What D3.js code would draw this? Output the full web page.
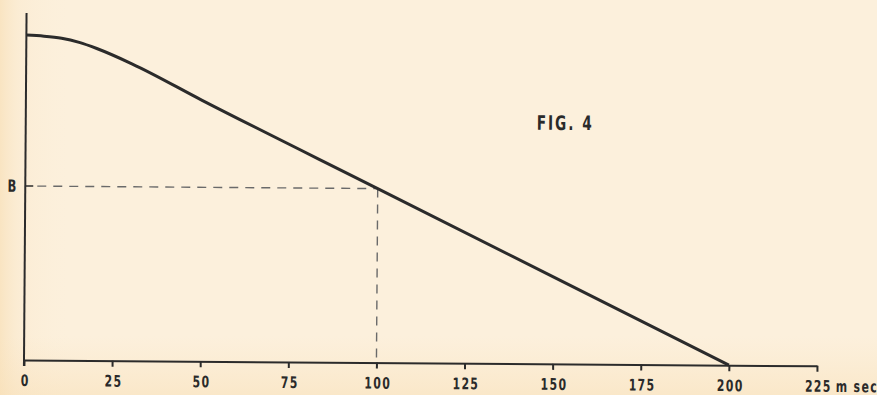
<!DOCTYPE html>
<html>
<head>
<meta charset="utf-8">
<script src="https://cdn.jsdelivr.net/npm/d3@7/dist/d3.min.js"></script>
<style>
  html, body { margin: 0; padding: 0; background: #fcefd9; }
  svg { display: block; }
  svg text.lbl { font-family: "DejaVu Sans", sans-serif; font-weight: bold; fill: #2a2a2a; }
</style>
</head>
<body>
<svg id="chart" width="877" height="395"></svg>
<script>
// Time axis (ms) and tick values
const xTicks = [0, 25, 50, 75, 100, 125, 150, 175, 200, 225];
const xUnit = "m sec";

// Decay curve: time in ms, level in arbitrary units
const curveT = [0, 5, 10, 15, 20, 30, 50, 100, 200];
const curveV = [325, 324, 322, 318, 312, 297, 261, 174, 0];

// Marked level B reached at t = 100 ms
const markT = 100;
const markV = 174;
const markLabel = "B";
const figTitle = "FIG. 4";

const W = 877, H = 395;
const svg = d3.select("#chart");

// paper tone: a little warmer at the left and bottom edges
const defs = svg.append("defs");
const gl = defs.append("linearGradient").attr("id", "edgeL").attr("x1", 0).attr("x2", 1).attr("y1", 0).attr("y2", 0);
gl.append("stop").attr("offset", 0).attr("stop-color", "#f7dcb0").attr("stop-opacity", 0.6);
gl.append("stop").attr("offset", 0.02).attr("stop-color", "#f9e3c0").attr("stop-opacity", 0.3);
gl.append("stop").attr("offset", 0.08).attr("stop-color", "#fcefd9").attr("stop-opacity", 0);
const gb = defs.append("linearGradient").attr("id", "edgeB").attr("x1", 0).attr("x2", 0).attr("y1", 0).attr("y2", 1);
gb.append("stop").attr("offset", 0.85).attr("stop-color", "#f9e3c0").attr("stop-opacity", 0);
gb.append("stop").attr("offset", 1).attr("stop-color", "#f8dfb6").attr("stop-opacity", 0.5);
svg.append("rect").attr("width", W).attr("height", H).attr("fill", "#fcf0dc");
svg.append("rect").attr("width", W).attr("height", H).attr("fill", "url(#edgeL)");
svg.append("rect").attr("width", W).attr("height", H).attr("fill", "url(#edgeB)");

const x = d3.scaleLinear().domain([0, 225]).range([24, 817]);
const y = d3.scaleLinear().domain([0, 350]).range([360, 10]);

// the printed figure sits very slightly turned on the page
const g = svg.append("g").attr("transform", "rotate(0.42, 24, 360)");

const ink = "#2b2b2b";
const narrow = 0.68;   // horizontal squeeze for the stencil-like lettering

// places a squeezed label at (px, py)
function label(parent, px, py, str, size, anchor, spacing) {
  return parent.append("text").attr("class", "lbl")
    .attr("transform", `translate(${px},${py}) scale(${narrow},1)`)
    .attr("font-size", size).attr("text-anchor", anchor)
    .style("letter-spacing", spacing + "px").text(str);
}

// x axis
const xAxis = d3.axisBottom(x).tickValues(xTicks).tickSize(6).tickSizeOuter(0).tickFormat(d => d);
const gx = g.append("g").attr("transform", `translate(0,${y(0)})`).call(xAxis);
gx.attr("font-family", null).attr("font-size", null);
gx.select(".domain").attr("stroke", ink).attr("stroke-width", 2);
gx.selectAll(".tick line").attr("stroke", ink).attr("stroke-width", 2);
gx.selectAll(".tick text").attr("class", "lbl").attr("y", 0).attr("dy", 0)
  .attr("transform", `translate(1,26) scale(${narrow},1)`)
  .attr("font-size", 16).style("letter-spacing", "2px");
label(gx, x(225) + 19, 26, xUnit, 16, "start", 2);

// y axis (plain line, runs a little below the time axis)
g.append("line").attr("x1", x(0)).attr("x2", x(0)).attr("y1", y(347)).attr("y2", y(0) + 6)
  .attr("stroke", ink).attr("stroke-width", 2);

// level B: short solid tick then dashed guides
g.append("line").attr("x1", x(0)).attr("x2", x(0) + 8).attr("y1", y(markV)).attr("y2", y(markV))
  .attr("stroke", ink).attr("stroke-width", 1.5);
g.append("line").attr("x1", x(0) + 12).attr("x2", x(markT)).attr("y1", y(markV)).attr("y2", y(markV))
  .attr("stroke", "#6a6a6a").attr("stroke-width", 1.4).attr("stroke-dasharray", "9,7");
g.append("line").attr("x1", x(markT)).attr("x2", x(markT)).attr("y1", y(markV)).attr("y2", y(0))
  .attr("stroke", "#6a6a6a").attr("stroke-width", 1.4).attr("stroke-dasharray", "9,7");
label(g, x(0) - 9, y(markV) + 6, markLabel, 17, "end", 0);

// decay curve
const pts = curveT.map((t, i) => [t, curveV[i]]);
const line = d3.line().x(d => x(d[0])).y(d => y(d[1])).curve(d3.curveMonotoneX);
g.append("path").attr("d", line(pts)).attr("fill", "none").attr("stroke", ink)
  .attr("stroke-width", 3).attr("stroke-linejoin", "round");

// figure caption
label(g, 535, 126, figTitle, 20, "start", 3);
</script>
</body>
</html>
